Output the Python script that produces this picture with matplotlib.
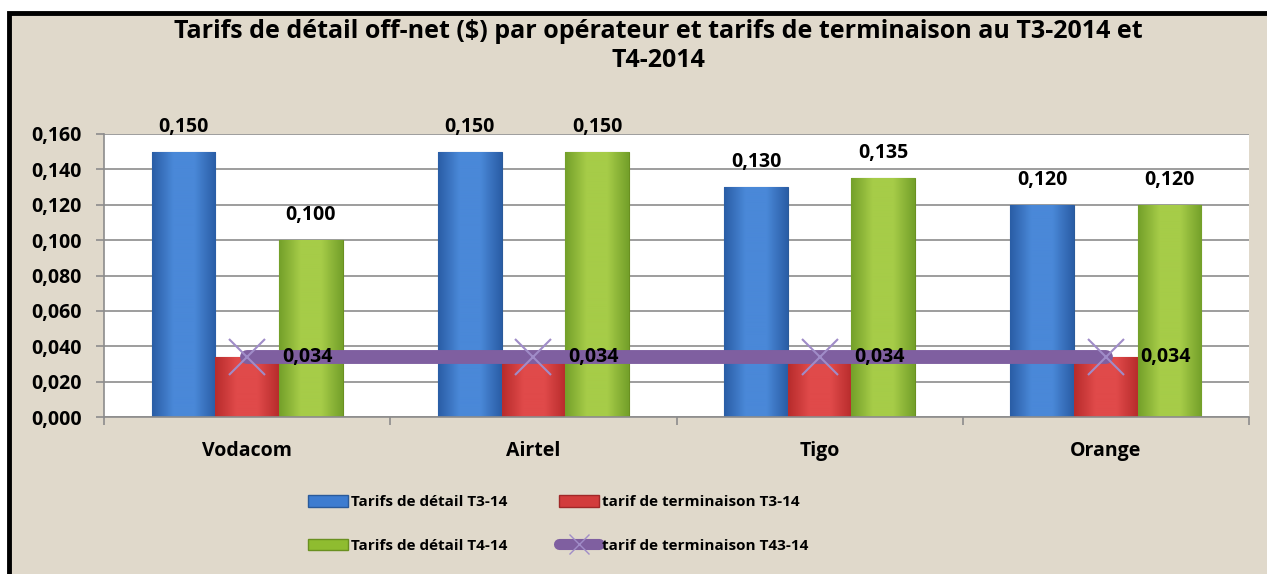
import matplotlib
matplotlib.use("Agg")
import matplotlib.pyplot as plt
import numpy as np
from matplotlib.patches import Rectangle
from matplotlib.lines import Line2D
from matplotlib.patches import Patch
from matplotlib.ticker import FixedLocator

plt.rcParams['font.family'] = ['Open Sans', 'DejaVu Sans']

# ---- data ----
categories = ["Vodacom", "Airtel", "Tigo", "Orange"]
retail_t3 = [0.150, 0.150, 0.130, 0.120]
term_t3 = [0.034, 0.034, 0.034, 0.034]
retail_t4 = [0.100, 0.150, 0.135, 0.120]
term_t4 = [0.034, 0.034, 0.034, 0.034]
series_names = ["Tarifs de détail T3-14", "tarif de terminaison T3-14",
                "Tarifs de détail T4-14", "tarif de terminaison T43-14"]
title = "Tarifs de détail off-net ($) par opérateur et tarifs de terminaison au T3-2014 et\nT4-2014"
yticks = [0.0, 0.02, 0.04, 0.06, 0.08, 0.10, 0.12, 0.14, 0.16]

def fmt(v):
    return f"{v:.3f}".replace(".", ",")

W, H = 1267, 574
fig = plt.figure(figsize=(W / 100, H / 100), dpi=100)
fig.patch.set_facecolor("white")

# background panel with black frame
bg = Rectangle((9 / W, -0.05), 1.1, 1 - 13 / H + 0.05, transform=fig.transFigure,
               facecolor="#e0d9cb", edgecolor="black", linewidth=3.5, zorder=-5)
fig.patches.append(bg)

ax = fig.add_axes([104 / W, 1 - 417 / H, (1249 - 104) / W, (417 - 134) / H])
ax.set_facecolor("white")

x = np.arange(len(categories))
bw = 1 / 4.5

colors = {
    "blue": ("#2a5ea6", "#4a88d8"),
    "red": ("#b82c2c", "#e04a4a"),
    "green": ("#74a02a", "#a6cc48"),
}

def gradient_bars(bars, dark, light):
    cm = matplotlib.colors.LinearSegmentedColormap.from_list("g", [dark, light, light, dark])
    grad = np.linspace(0, 1, 64).reshape(1, -1)
    for b in bars:
        x0, y0 = b.get_x(), b.get_y()
        w, h = b.get_width(), b.get_height()
        im = ax.imshow(grad, extent=(x0, x0 + w, y0, y0 + h), aspect="auto",
                       cmap=cm, zorder=b.get_zorder() + 0.1, interpolation="bicubic")
        im.set_clip_path(b)

b1 = ax.bar(x - bw, retail_t3, bw, color=colors["blue"][1], edgecolor="#2a5a9a",
            linewidth=0.8, zorder=2, label=series_names[0])
b2 = ax.bar(x, term_t3, bw, color=colors["red"][1], edgecolor="#a02828",
            linewidth=0.8, zorder=2, label=series_names[1])
b3 = ax.bar(x + bw, retail_t4, bw, color=colors["green"][1], edgecolor="#6a9020",
            linewidth=0.8, zorder=2, label=series_names[2])
gradient_bars(b1, *colors["blue"])
gradient_bars(b2, *colors["red"])
gradient_bars(b3, *colors["green"])
ax.set_xlim(-0.5, len(categories) - 0.5)
ax.set_ylim(0, 0.16)

ax.plot(x, term_t4, color="#7f5fa0", linewidth=10, solid_capstyle="round", zorder=4)
ax.plot(x, term_t4, linestyle="none", marker="x", markersize=26, markeredgewidth=1.5,
        color="#a08cc8", zorder=5)

for bars, vals in ((b1, retail_t3), (b3, retail_t4)):
    for b, v in zip(bars, vals):
        ax.annotate(fmt(v), (b.get_x() + b.get_width() / 2, v), xytext=(0, 18),
                    textcoords="offset points", ha="center", va="center",
                    fontsize=14, fontweight="bold", zorder=6, annotation_clip=False)
for xi, v in zip(x, term_t4):
    ax.annotate(fmt(v), (xi, v), xytext=(25, 0), textcoords="offset points",
                ha="left", va="center", fontsize=14, fontweight="bold", zorder=6)

ax.set_yticks(yticks)
ax.set_yticklabels([fmt(v) for v in yticks], fontsize=14, fontweight="bold")
ax.yaxis.grid(True, color="#8c8c8c", linewidth=1.2, zorder=0)
ax.set_axisbelow(True)
ax.set_xticks(x)
ax.set_xticklabels(categories, fontsize=14, fontweight="bold")
ax.tick_params(axis="x", length=0, pad=17)
ax.xaxis.set_minor_locator(FixedLocator(np.arange(-0.5, len(categories), 1.0)))
ax.tick_params(axis="x", which="minor", length=6, color="#8c8c8c", width=1.2)
ax.tick_params(axis="y", length=6, color="#8c8c8c", width=1.2, pad=10)
for s in ["top", "right"]:
    ax.spines[s].set_visible(False)
ax.spines["left"].set_color("#8c8c8c")
ax.spines["bottom"].set_color("#8c8c8c")
ax.spines["left"].set_linewidth(1.2)
ax.spines["bottom"].set_linewidth(1.2)

fig.text(658 / W, 1 - 46 / H, title, ha="center", va="center", fontsize=18,
         fontweight="bold", linespacing=1.2)

handles = [
    Patch(facecolor="#3d7cd0", edgecolor="#2a5a9a"),
    Patch(facecolor="#8fbc30", edgecolor="#6a9020"),
    Patch(facecolor="#d23c3c", edgecolor="#a02828"),
    Line2D([], [], color="#7f5fa0", linewidth=8, solid_capstyle="round",
           marker="x", markersize=14, markeredgecolor="#a08cc8"),
]
labels = [series_names[0], series_names[2], series_names[1], series_names[3]]
leg = fig.legend(handles, labels, ncol=2, loc="center", bbox_to_anchor=(558 / W, 1 - 524 / H),
                 frameon=False, prop={"weight": "bold", "size": 11},
                 handlelength=2.6, handleheight=0.8, handletextpad=0.2,
                 columnspacing=3.4, labelspacing=1.9)

fig.savefig("out.png", dpi=100, facecolor=fig.get_facecolor())
